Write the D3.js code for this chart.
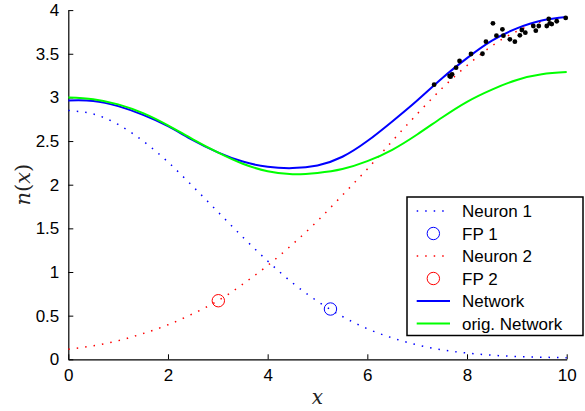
<!DOCTYPE html>
<html>
<head>
<meta charset="utf-8">
<script src="https://cdn.jsdelivr.net/npm/d3@7"></script>
<style>
  body { margin: 0; background: #fff; }
  svg { display: block; }
</style>
</head>
<body>
<svg id="chart" width="585" height="411"></svg>
<script>
// ---- data ----
const xGrid = [0, 0.5, 1, 1.5, 2, 2.5, 3, 3.5, 4, 4.5, 5, 5.5, 6, 6.5, 7, 7.5, 8, 8.5, 9, 9.5, 10]
const neuron1 = [2.85, 2.81, 2.69, 2.5, 2.26, 1.98, 1.69, 1.4, 1.126, 0.875, 0.665, 0.49, 0.35, 0.245, 0.165, 0.108, 0.072, 0.047, 0.032, 0.024, 0.018]
const neuron2 = [0.115, 0.155, 0.213, 0.295, 0.395, 0.522, 0.67, 0.86, 1.075, 1.318, 1.585, 1.88, 2.18, 2.5, 2.81, 3.105, 3.365, 3.59, 3.758, 3.867, 3.92]
const network = [2.965, 2.96, 2.9, 2.8, 2.67, 2.51, 2.37, 2.265, 2.205, 2.19, 2.22, 2.32, 2.5, 2.725, 2.965, 3.22, 3.45, 3.65, 3.79, 3.88, 3.92]
const origNetwork = [3.0, 2.98, 2.92, 2.82, 2.68, 2.52, 2.37, 2.24, 2.155, 2.12, 2.135, 2.18, 2.27, 2.4, 2.575, 2.77, 2.95, 3.09, 3.2, 3.265, 3.29]
const fp1 = [5.26, 0.576]
const fp2 = [3.01, 0.671]
const samplesX = [7.34, 7.65, 7.67, 7.7, 7.78, 7.85, 8.08, 8.31, 8.38, 8.52, 8.59, 8.71, 8.73, 8.86, 8.96, 9.06, 9.1, 9.17, 9.33, 9.38, 9.44, 9.6, 9.64, 9.66, 9.7, 9.8, 9.98]
const samplesY = [3.146, 3.245, 3.237, 3.264, 3.34, 3.417, 3.497, 3.5, 3.638, 3.849, 3.707, 3.78, 3.707, 3.665, 3.638, 3.711, 3.772, 3.741, 3.818, 3.764, 3.818, 3.818, 3.898, 3.849, 3.84, 3.872, 3.91]
const xTicks = [0, 2, 4, 6, 8, 10]
const yTicks = [0, 0.5, 1, 1.5, 2, 2.5, 3, 3.5, 4]
const legendLabels = ['Neuron 1', 'FP 1', 'Neuron 2', 'FP 2', 'Network', 'orig. Network']

// ---- layout ----
const plot = { left: 68.3, right: 566.7, top: 10.1, bottom: 359.3 }
const font = '"Liberation Sans", Arial, Helvetica, sans-serif'
const blue = '#0000ff'
const red = '#ff0000'
const green = '#00ff00'

const svg = d3.select('#chart')

const x = d3.scaleLinear().domain([0, 10]).range([plot.left, plot.right])
const y = d3.scaleLinear().domain([0, 4]).range([plot.bottom, plot.top])

// axes (ticks point inward, no box)
const xAxis = svg.append('g')
  .attr('transform', `translate(0,${plot.bottom})`)
  .call(d3.axisBottom(x).tickValues(xTicks).tickSizeInner(-5).tickSizeOuter(0).tickPadding(10).tickFormat(d3.format('d')))
const yAxis = svg.append('g')
  .attr('transform', `translate(${plot.left},0)`)
  .call(d3.axisLeft(y).tickValues(yTicks).tickSizeInner(-5).tickSizeOuter(0).tickPadding(9).tickFormat(d => String(d)))

for (const ax of [xAxis, yAxis]) {
  ax.select('.domain').attr('stroke', '#000').attr('stroke-width', 1.2)
  ax.selectAll('.tick line').attr('stroke', '#000').attr('stroke-width', 1)
  ax.selectAll('.tick text').attr('fill', '#000').style('font-family', font).style('font-size', '17px')
}

// axis labels
svg.append('text')
  .attr('x', (plot.left + plot.right) / 2)
  .attr('y', 404)
  .attr('text-anchor', 'middle')
  .style('font-family', '"DejaVu Serif", "Liberation Serif", serif')
  .style('font-style', 'italic')
  .style('font-size', '20px')
  .attr('fill', '#222')
  .text('x')

svg.append('text')
  .attr('transform', `translate(30,${(plot.top + plot.bottom) / 2}) rotate(-90)`)
  .attr('text-anchor', 'middle')
  .style('font-family', '"DejaVu Serif", "Liberation Serif", serif')
  .style('font-size', '21px')
  .attr('fill', '#222')
  .html('<tspan font-style="italic">n</tspan>(<tspan font-style="italic">x</tspan>)')

// curves
const line = d3.line()
  .x((d, i) => x(xGrid[i]))
  .y(d => y(d))
  .curve(d3.curveNatural)

const dotted = { width: 1.5, dash: '1.5,7' }

svg.append('path').datum(neuron1)
  .attr('d', line).attr('fill', 'none').attr('stroke', blue)
  .attr('stroke-width', dotted.width).attr('stroke-dasharray', dotted.dash)

svg.append('circle')
  .attr('cx', x(fp1[0])).attr('cy', y(fp1[1])).attr('r', 6.2)
  .attr('fill', 'none').attr('stroke', blue).attr('stroke-width', 1)

svg.append('path').datum(neuron2)
  .attr('d', line).attr('fill', 'none').attr('stroke', red)
  .attr('stroke-width', dotted.width).attr('stroke-dasharray', dotted.dash)

svg.append('circle')
  .attr('cx', x(fp2[0])).attr('cy', y(fp2[1])).attr('r', 6.2)
  .attr('fill', 'none').attr('stroke', red).attr('stroke-width', 1)

svg.append('path').datum(network)
  .attr('d', line).attr('fill', 'none').attr('stroke', blue).attr('stroke-width', 2)

svg.append('path').datum(origNetwork)
  .attr('d', line).attr('fill', 'none').attr('stroke', green).attr('stroke-width', 2)

// sample points
svg.append('g').selectAll('circle')
  .data(samplesX)
  .join('circle')
  .attr('cx', d => x(d))
  .attr('cy', (d, i) => y(samplesY[i]))
  .attr('r', 2.4)
  .attr('fill', '#000')

// legend
const legend = { left: 407, top: 197, right: 583, bottom: 335.5, row0: 211, step: 22.5, lineX0: 416.7, lineX1: 450, textX: 462 }
const lg = svg.append('g')
lg.append('rect')
  .attr('x', legend.left).attr('y', legend.top)
  .attr('width', legend.right - legend.left).attr('height', legend.bottom - legend.top)
  .attr('fill', '#fff').attr('stroke', '#000').attr('stroke-width', 1.5)

const legendStyles = [
  { kind: 'line', color: blue, dash: dotted.dash, width: dotted.width },
  { kind: 'circle', color: blue },
  { kind: 'line', color: red, dash: dotted.dash, width: dotted.width },
  { kind: 'circle', color: red },
  { kind: 'line', color: blue, dash: null, width: 2 },
  { kind: 'line', color: green, dash: null, width: 2 }
]

legendLabels.forEach((label, i) => {
  const cy = legend.row0 + i * legend.step
  const st = legendStyles[i]
  if (st.kind === 'line') {
    lg.append('line')
      .attr('x1', legend.lineX0).attr('x2', legend.lineX1)
      .attr('y1', cy).attr('y2', cy)
      .attr('stroke', st.color).attr('stroke-width', st.width)
      .attr('stroke-dasharray', st.dash)
  } else {
    lg.append('circle')
      .attr('cx', (legend.lineX0 + legend.lineX1) / 2).attr('cy', cy).attr('r', 6.2)
      .attr('fill', 'none').attr('stroke', st.color).attr('stroke-width', 1)
  }
  lg.append('text')
    .attr('x', legend.textX).attr('y', cy).attr('dy', '0.36em')
    .style('font-family', font).style('font-size', '17px')
    .text(label)
})
</script>
</body>
</html>
